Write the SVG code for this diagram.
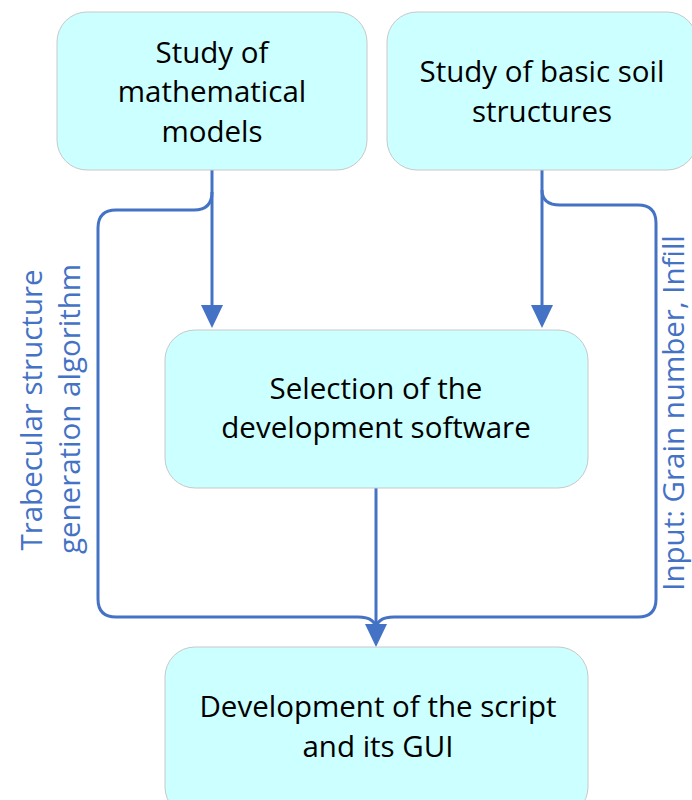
<svg xmlns="http://www.w3.org/2000/svg" width="692" height="800" viewBox="0 0 692 800">
<style>
.box{fill:#CCFFFF;stroke:#C8C8C8;stroke-width:1}
.t{font-family:"Open Sans","Noto Sans",sans-serif;font-size:29.5px;fill:#000;text-anchor:middle}
.lbl{font-family:"Open Sans","Noto Sans",sans-serif;font-size:29.5px;fill:#4472C4;text-anchor:middle}
.c{fill:none;stroke:#4472C4;stroke-width:3}
.ah{fill:#4472C4}
</style>
<g id="connectors">
<path class="c" d="M212,170 V306"/>
<polygon class="ah" points="201,305 223,305 212,328"/>
<path class="c" d="M542,170 V306"/>
<polygon class="ah" points="531,305 553,305 542,328"/>
<path class="c" d="M376,488 V625"/>
<polygon class="ah" points="365,624 387,624 376,647"/>
<path class="c" d="M212,192 Q212,210 194,210 H116 Q98,210 98,228 V599 Q98,617 116,617 H358 Q376,617 376,630"/>
<path class="c" d="M542,190 Q542,205 560,205 H638 Q656,205 656,223 V599 Q656,617 638,617 H394 Q376,617 376,630"/>
</g>
<g id="n1">
<rect class="box" x="57" y="12" width="310" height="158" rx="30"/>
<text class="t" x="212" y="63">Study of</text>
<text class="t" x="212" y="102">mathematical</text>
<text class="t" x="212" y="142">models</text>
</g>
<g id="n2">
<rect class="box" x="387" y="12" width="310" height="158" rx="30"/>
<text class="t" x="542" y="82">Study of basic soil</text>
<text class="t" x="542" y="122">structures</text>
</g>
<g id="n3">
<rect class="box" x="165" y="330" width="423" height="158" rx="30"/>
<text class="t" x="376" y="399">Selection of the</text>
<text class="t" x="376" y="438">development software</text>
</g>
<g id="n4">
<rect class="box" x="165" y="647" width="423" height="170" rx="30"/>
<text class="t" x="378" y="717">Development of the script</text>
<text class="t" x="378" y="757">and its GUI</text>
</g>
<g id="labels">
<text class="lbl" transform="translate(42,410) rotate(-90)">Trabecular structure</text>
<text class="lbl" transform="translate(80,409) rotate(-90)">generation algorithm</text>
<text class="lbl" transform="translate(684,413) rotate(-90)">Input: Grain number, Infill</text>
</g>
</svg>
